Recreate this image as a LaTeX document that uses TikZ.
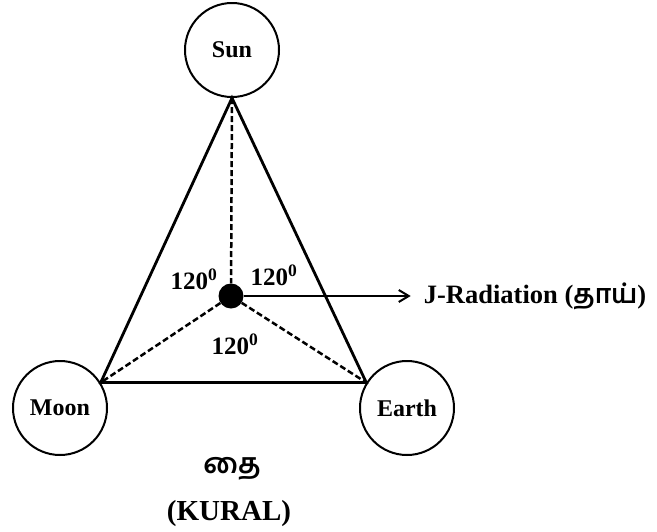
\documentclass[tikz,border=0pt]{standalone}
\usepackage{fontspec}
\setmainfont{Liberation Serif}
\newfontfamily\tamilfont[Script=Tamil]{Hind Madurai}
\usetikzlibrary{arrows.meta, positioning}

\begin{document}
\begin{tikzpicture}[
    x=1pt, y=-1pt,
    body/.style={circle, draw, line width=2pt, minimum size=94pt, inner sep=0pt, font=\fontsize{24}{28}\selectfont\bfseries},
    side/.style={line width=2.8pt},
    spoke/.style={line width=2.5pt, dash pattern=on 6pt off 3pt},
    tag/.style={inner sep=0pt, font=\fontsize{25}{29}\selectfont\bfseries},
    arrow/.style={-{Straight Barb[length=10pt, width=12pt]}, line width=2pt},
]
\useasboundingbox (0,0) rectangle (657,531);

% bodies
\node[body] (sun) at (232,50) {Sun};
\node[body] (moon) at (60,408) {Moon};
\node[body] (earth) at (407,408) {Earth};
\node[circle, fill, minimum size=25pt, inner sep=0pt] (core) at (231,296) {};

% triangle and spokes
\draw[side, line join=miter] (sun.south) -- (moon.32) -- (earth.148) -- cycle;
\draw[spoke] (sun.south) -- (core);
\draw[spoke] (core) -- (moon.32);
\draw[spoke] (core) -- (earth.148);

% angles
\node[tag] (a_left) at (194,279) {120\textsuperscript{0}};
\node[tag] (a_right) at (274,275) {120\textsuperscript{0}};
\node[tag] (a_low) at (235,344) {120\textsuperscript{0}};

% radiation
\node[tag, font=\fontsize{26.5}{30}\selectfont\bfseries, inner xsep=13pt, right=167pt of core] (jrad) {J-Radiation ({\tamilfont தாய்})};
\draw[arrow] (core) -- (core -| jrad.west);

% caption
\node[tag, font=\fontsize{28}{32}\selectfont\bfseries] (thai) at (232,469) {\tamilfont தை};
\node[tag, font=\fontsize{29}{33}\selectfont\bfseries] (kural) at (229,514) {(KURAL)};
\end{tikzpicture}
\end{document}
